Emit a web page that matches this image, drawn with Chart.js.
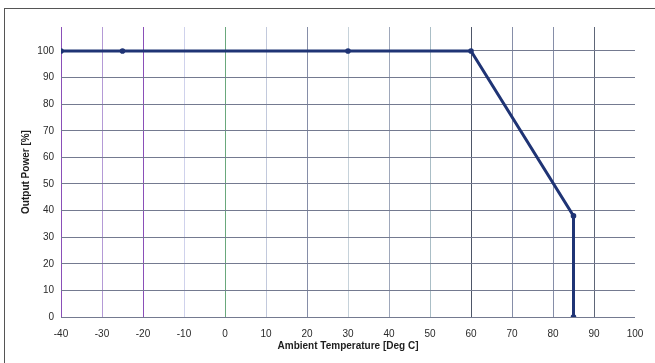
<!DOCTYPE html>
<html>
<head>
<meta charset="utf-8">
<script src="https://cdn.jsdelivr.net/npm/chart.js@4/dist/chart.umd.min.js"></script>
<style>
  html, body { margin: 0; padding: 0; background: #fff; }
  #wrap { position: relative; width: 655px; height: 363px; overflow: hidden; }
  #frame { position: absolute; left: 4px; top: 8px; width: 700px; height: 400px; border: 1.5px solid #555; }
  canvas { position: absolute; left: 0; top: 0; }
</style>
</head>
<body>
<div id="wrap">
  <div id="frame"></div>
  <canvas id="derating" width="655" height="363"></canvas>
</div>
<script>
// derating curve: ambient temperature (deg C) vs output power (%)
const temperature = [-40, -25, 30, 60, 85, 85];
const outputPower = [100, 100, 100, 100, 38, 0];

const xTicks = [-40, -30, -20, -10, 0, 10, 20, 30, 40, 50, 60, 70, 80, 90, 100];
const yTicks = [0, 10, 20, 30, 40, 50, 60, 70, 80, 90, 100];

// scanned grid has uneven line tints, one per x tick (none at 100)
const vGridColors = [
  "#8a4fb8", "#b49ad6", "#8a4fb8", "#cfd2ec",
  "#6aa87c", "#c2c9dc", "#868ea8", "#c6d2da",
  "#9ea7ba", "#aabec6", "#4e5668", "#868ea8",
  "#868ea8", "#5e6678", "rgba(0,0,0,0)"
];

const font = { family: "'Liberation Sans', Arial, sans-serif", size: 10 };

new Chart(document.getElementById("derating"), {
  type: "line",
  data: {
    datasets: [{
      data: temperature.map((t, i) => ({ x: t, y: outputPower[i] })),
      borderColor: "#1f3475",
      backgroundColor: "#1f3475",
      borderWidth: 3,
      pointRadius: 1.3,
      tension: 0,
    }],
  },
  options: {
    responsive: false,
    animation: false,
    layout: { padding: { left: 18, right: 20, top: 27, bottom: 9 } },
    plugins: { legend: { display: false }, tooltip: { enabled: false } },
    scales: {
      x: {
        type: "linear",
        min: xTicks[0],
        max: xTicks[xTicks.length - 1],
        afterBuildTicks: (s) => { s.ticks = xTicks.map((v) => ({ value: v })); },
        afterFit: (s) => { s.height = 37; },
        border: { display: false },
        grid: {
          drawTicks: false,
          lineWidth: 1,
          color: (c) => vGridColors[xTicks.indexOf(c.tick.value)] || "#868ea8",
        },
        ticks: { font, color: "#2a2a2a", padding: 11, maxRotation: 0 },
        title: {
          display: true,
          text: "Ambient Temperature [Deg C]",
          font: { ...font, weight: "bold" },
          color: "#1e1e1e",
          padding: { top: 2, bottom: 2 },
        },
      },
      y: {
        min: 0,
        max: 109,
        afterBuildTicks: (s) => { s.ticks = yTicks.map((v) => ({ value: v })); },
        afterFit: (s) => { s.width = 43; },
        border: { display: false },
        grid: { drawTicks: false, lineWidth: 1, color: "#747a90" },
        ticks: { font, color: "#2a2a2a", padding: 7 },
        title: {
          display: true,
          text: "Output Power [%]",
          font: { ...font, weight: "bold" },
          color: "#1e1e1e",
          padding: { top: 2, bottom: 2 },
        },
      },
    },
  },
});
</script>
</body>
</html>
